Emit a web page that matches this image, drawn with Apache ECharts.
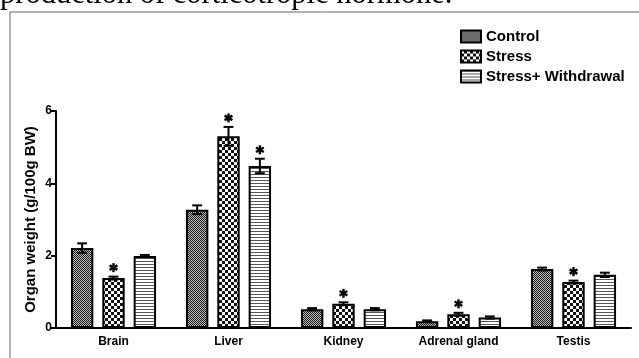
<!DOCTYPE html>
<html>
<head>
<meta charset="utf-8">
<script src="https://cdn.jsdelivr.net/npm/echarts@6/dist/echarts.min.js"></script>
<style>
  html, body { margin: 0; padding: 0; background: #fff; }
  #chart { width: 639px; height: 358px; }
</style>
</head>
<body>
<div id="chart"></div>
<script>
// organ weights, g/100g BW
var categories = ['Brain', 'Liver', 'Kidney', 'Adrenal gland', 'Testis'];
var seriesNames = ['Control', 'Stress', 'Stress+ Withdrawal'];
var control = [2.21, 3.27, 0.52, 0.19, 1.63];
var stress = [1.38, 5.30, 0.67, 0.38, 1.27];
var withdrawal = [1.99, 4.48, 0.52, 0.29, 1.47];
var controlErr = [0.13, 0.12, 0.03, 0.02, 0.04];
var stressErr = [0.04, 0.26, 0.04, 0.04, 0.04];
var withdrawalErr = [0.03, 0.20, 0.03, 0.03, 0.06];
// significance stars (1 = marked)
var stressStar = [1, 1, 1, 1, 1];
var withdrawalStar = [0, 1, 0, 0, 0];
var yTicks = [0, 2, 4, 6];

var CAT_GAP = 0.26, BAR_GAP = 0.4;

function makePattern(w, h, draw) {
  var c = document.createElement('canvas');
  c.width = w; c.height = h;
  var ctx = c.getContext('2d');
  draw(ctx);
  return { image: c, repeat: 'repeat' };
}
var finePattern = makePattern(2, 2, function (ctx) {
  ctx.fillStyle = '#bcbcbc'; ctx.fillRect(0, 0, 2, 2);
  ctx.fillStyle = '#1a1a1a'; ctx.fillRect(0, 0, 1, 1); ctx.fillRect(1, 1, 1, 1);
});
var checkPattern = makePattern(6, 6, function (ctx) {
  ctx.fillStyle = '#111'; ctx.fillRect(0, 0, 6, 6);
  ctx.fillStyle = '#fff'; ctx.fillRect(0, 0, 3, 3); ctx.fillRect(3, 3, 3, 3);
});
var stripePattern = makePattern(3, 3, function (ctx) {
  ctx.fillStyle = '#fff'; ctx.fillRect(0, 0, 3, 3);
  ctx.fillStyle = '#555'; ctx.fillRect(0, 0, 3, 1);
});
var patterns = [finePattern, checkPattern, stripePattern];
var values = [control, stress, withdrawal];
var errs = [controlErr, stressErr, withdrawalErr];
var stars = [null, stressStar, withdrawalStar];

var errData = [];
for (var s = 0; s < 3; s++) {
  for (var i = 0; i < categories.length; i++) {
    errData.push([i, s, values[s][i], errs[s][i], stars[s] ? stars[s][i] : 0]);
  }
}

function renderErr(params, api) {
  var ci = api.value(0), si = api.value(1), mean = api.value(2), e = api.value(3), star = api.value(4);
  var band = api.size([1, 0])[0];
  var w = band * (1 - CAT_GAP) / (3 + 2 * BAR_GAP);
  var total = 3 * w + 2 * BAR_GAP * w;
  var center = api.coord([ci, 0])[0];
  var x = center - total / 2 + w / 2 + si * w * (1 + BAR_GAP);
  var top = api.coord([ci, mean + e])[1];
  var bot = api.coord([ci, mean - e])[1];
  var cap = w * 0.22;
  var lineStyle = { stroke: '#000', lineWidth: 2 };
  var children = [
    { type: 'line', shape: { x1: x, y1: top, x2: x, y2: bot }, style: lineStyle },
    { type: 'line', shape: { x1: x - cap, y1: top, x2: x + cap, y2: top }, style: lineStyle },
    { type: 'line', shape: { x1: x - cap, y1: bot, x2: x + cap, y2: bot }, style: lineStyle }
  ];
  if (star) {
    var cy = top - 9, r = 4.5;
    var d = r * 0.866;
    var starStyle = { stroke: '#000', lineWidth: 2.4 };
    children.push(
      { type: 'line', shape: { x1: x, y1: cy - r, x2: x, y2: cy + r }, style: starStyle },
      { type: 'line', shape: { x1: x - d, y1: cy - r / 2, x2: x + d, y2: cy + r / 2 }, style: starStyle },
      { type: 'line', shape: { x1: x - d, y1: cy + r / 2, x2: x + d, y2: cy - r / 2 }, style: starStyle }
    );
  }
  return { type: 'group', children: children };
}

var barSeries = seriesNames.map(function (name, k) {
  return {
    name: name,
    type: 'bar',
    data: values[k],
    barCategoryGap: (CAT_GAP * 100) + '%',
    barGap: (BAR_GAP * 100) + '%',
    itemStyle: { color: patterns[k], borderColor: '#000', borderWidth: 2 },
    emphasis: { disabled: true },
    animation: false
  };
});

var chart = echarts.init(document.getElementById('chart'));
chart.setOption({
  animation: false,
  grid: { left: 56, right: 8, top: 111, bottom: 30 },
  legend: {
    orient: 'vertical',
    left: 455,
    top: 24,
    icon: 'rect',
    itemWidth: 20,
    itemHeight: 12,
    itemGap: 5,
    data: seriesNames,
    textStyle: { fontFamily: 'Liberation Sans', fontWeight: 'bold', fontSize: 15, color: '#000', padding: [0, 0, 0, 0] }
  },
  xAxis: {
    type: 'category',
    data: categories,
    axisLine: { lineStyle: { color: '#000', width: 2 } },
    axisTick: { alignWithLabel: true, length: 6, lineStyle: { color: '#000', width: 2 } },
    axisLabel: { fontFamily: 'Liberation Sans', fontWeight: 'bold', fontSize: 12, color: '#000', margin: 8 }
  },
  yAxis: {
    type: 'value',
    min: yTicks[0],
    max: yTicks[yTicks.length - 1],
    interval: 2,
    name: 'Organ weight (g/100g BW)',
    nameLocation: 'middle',
    nameGap: 18,
    nameMoveOverlap: false,
    nameTextStyle: { fontFamily: 'Liberation Sans', fontWeight: 'bold', fontSize: 15, color: '#000' },
    splitLine: { show: false },
    axisLine: { show: true, lineStyle: { color: '#000', width: 2 } },
    axisTick: { show: true, length: 5, lineStyle: { color: '#000', width: 2 } },
    axisLabel: { fontFamily: 'Liberation Sans', fontWeight: 'bold', fontSize: 12, color: '#000', margin: 4 }
  },
  graphic: [
    { type: 'text', left: 0, top: -21, style: { text: 'production of corticotropic hormone.', fontFamily: 'Liberation Serif', fontSize: 30.5, fill: '#000' } },
    { type: 'polyline', shape: { points: [[10, 358], [10, 12], [639, 12]] }, style: { stroke: '#666', lineWidth: 1, fill: null } }
  ],
  series: barSeries.concat([{
    type: 'custom',
    renderItem: renderErr,
    data: errData,
    z: 10,
    silent: true
  }])
});
</script>
</body>
</html>
